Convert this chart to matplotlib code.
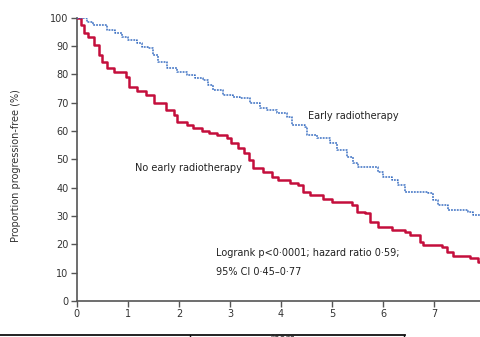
import matplotlib
matplotlib.use("Agg")
import matplotlib.pyplot as plt
from matplotlib.lines import Line2D

# Kaplan-Meier steps (years, % progression-free)
red_t = [0, 0.08, 0.14, 0.22, 0.33, 0.43, 0.5, 0.6, 0.72, 0.97,
         1.03, 1.17, 1.35, 1.52, 1.74, 1.9, 1.97, 2.15, 2.27, 2.45,
         2.6, 2.75, 2.94, 3.03, 3.15, 3.28, 3.38, 3.45, 3.64, 3.83,
         3.94, 4.17, 4.33, 4.43, 4.57, 4.82, 5.0, 5.4, 5.49, 5.65,
         5.75, 5.9, 6.18, 6.43, 6.53, 6.72, 6.78, 7.16, 7.25, 7.37,
         7.7, 7.86, 7.9]
red_v = [100, 97.5, 94.7, 93.3, 90.5, 87, 84.5, 82.3, 81, 79,
         75.6, 74, 72.8, 70, 67.5, 65.7, 63.3, 62.2, 61, 60,
         59.4, 58.7, 57.6, 55.8, 54, 52.3, 49.8, 47, 45.6, 43.8,
         42.8, 41.7, 41, 38.5, 37.5, 36, 35, 34, 31.4, 31,
         28, 26, 25, 24.4, 23.3, 20.8, 19.8, 19, 17.3, 15.9,
         15.2, 13.8, 13.8]

blue_t = [0, 0.2, 0.31, 0.59, 0.75, 0.88, 1.0, 1.18, 1.27, 1.39,
          1.49, 1.59, 1.76, 1.96, 2.16, 2.31, 2.47, 2.57, 2.67, 2.86,
          3.06, 3.2, 3.39, 3.59, 3.73, 3.92, 4.12, 4.22, 4.47, 4.51,
          4.71, 4.96, 5.1, 5.29, 5.41, 5.51, 5.9, 6.0, 6.18, 6.29,
          6.43, 6.88, 6.98, 7.08, 7.27, 7.67, 7.76, 7.9]
blue_v = [100, 98.6, 97.5, 95.8, 94.7, 93.3, 92.2, 91.2, 89.8, 89.4,
          87, 84.5, 82.3, 81, 79.9, 78.8, 78, 76.3, 74.6, 72.8,
          72, 71.7, 70, 68.2, 67.5, 66.4, 65, 62.2, 61.5, 58.7,
          57.6, 55.8, 53.4, 50.9, 48.8, 47.3, 45.6, 43.8, 42.8, 41,
          38.5, 38.2, 35.7, 34, 32.2, 31.4, 30.4, 30.4]

x_ticks = [0, 1, 2, 3, 4, 5, 6, 7]
y_ticks = [0, 10, 20, 30, 40, 50, 60, 70, 80, 90, 100]

red = "#c40e3c"
blue = "#3a6fc2"
grey = "#555555"

fig = plt.figure(figsize=(4.8, 3.37), dpi=100)
ax = fig.add_axes([0.160, 0.107, 0.840, 0.840])

ax.step(red_t, red_v, where="post", color=red, lw=1.8, zorder=3)
ax.step(blue_t, blue_v, where="post", color=blue, lw=1.1,
        linestyle=(0, (1.2, 0.7)), zorder=3)

ax.set_xlim(0, 7.9)
ax.set_ylim(0, 100)
ax.set_xticks(x_ticks)
ax.set_yticks(y_ticks)
ax.tick_params(direction="out", length=4, width=1, color=grey,
               labelsize=7, labelcolor="#333333", pad=2)
for s in ["top", "right"]:
    ax.spines[s].set_visible(False)
for s in ["left", "bottom"]:
    ax.spines[s].set_color(grey)
    ax.spines[s].set_linewidth(1.2)

ax.set_ylabel("Proportion progression-free (%)", fontsize=7, color="#333333")
ax.yaxis.set_label_coords(-0.138, 0.48)

ax.text(4.53, 65.4, "Early radiotherapy", fontsize=7, va="center", color="#222222")
ax.text(1.14, 47, "No early radiotherapy", fontsize=7, va="center", color="#222222")
ax.text(2.73, 17, "Logrank p<0\u00b70001; hazard ratio 0\u00b759;", fontsize=7,
        va="center", color="#222222")
ax.text(2.73, 10.3, "95% CI 0\u00b745\u20130\u00b777", fontsize=7, va="center", color="#222222")

# cropped table/label strip at the very bottom
fig.add_artist(Line2D([0, 405 / 480], [2 / 337, 2 / 337], color="#111111", lw=1.3))
fig.add_artist(Line2D([190 / 480, 190 / 480], [0, 2 / 337], color="#111111", lw=1))
fig.add_artist(Line2D([404 / 480, 404 / 480], [0, 2 / 337], color="#111111", lw=1))
fig.text(282 / 480, 3 / 337, "Years", fontsize=7, ha="center", va="top", color="#333333")

fig.savefig("out.png", dpi=100)
